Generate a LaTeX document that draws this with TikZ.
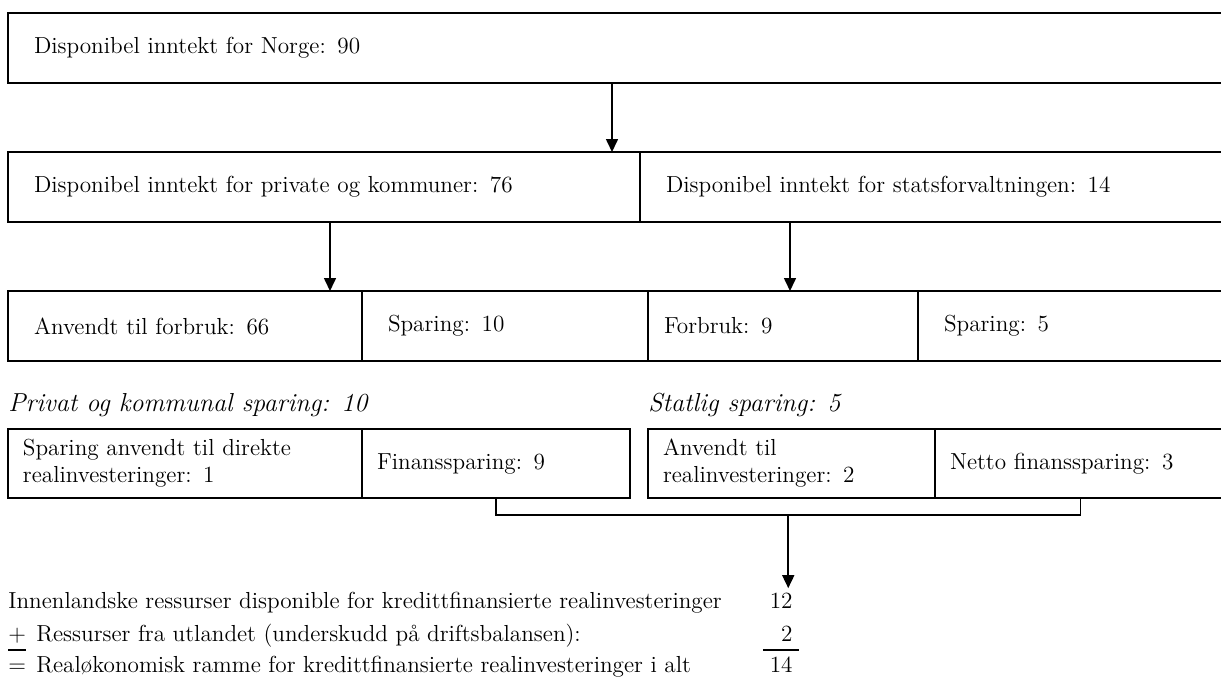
\documentclass[tikz,border=0pt]{standalone}
\usetikzlibrary{arrows.meta, positioning, calc}

\begin{document}
\begin{tikzpicture}[x=0.5pt, y=-0.5pt,
      box/.style={rectangle, draw, line width=1pt, outer sep=0pt, inner xsep=13pt, inner ysep=2pt, minimum height=35pt, align=left, text width=#1},
      smallbox/.style={box=#1, inner xsep=7.5pt, minimum height=34.5pt},
      heading/.style={font=\fontsize{13}{16}\selectfont\itshape, inner sep=0pt},
      line/.style={anchor=base west, inner sep=0pt},
      num/.style={anchor=base east, inner sep=0pt},
      arrow/.style={-{Triangle[width=6pt, length=6.5pt]}, line width=0.8pt},
      every node/.style={font=\fontsize{11.6}{13.5}\selectfont}
    ]
    \useasboundingbox (0,0) rectangle (1221,680);

    % Norge
    \node[box=583pt, anchor=north west] (norge) at (8,13) {Disponibel inntekt for Norge: 90};

    % Private og stat
    \node[box=290pt, below=34.5pt of norge.south west, anchor=north west] (privat) {Disponibel inntekt for private og kommuner: 76};
    \node[box=267pt, right=0pt of privat] (stat) {Disponibel inntekt for statsforvaltningen: 14};

    % Forbruk og sparing
    \node[box=151pt, below=34.5pt of privat.south west, anchor=north west] (forbruk) {Anvendt til forbruk: 66};
    \node[box=117pt, right=0pt of forbruk] (sparing) {Sparing: 10};
    \node[box=119pt, inner xsep=8pt, right=0pt of sparing] (sforbruk) {Forbruk: 9};
    \node[box=128pt, right=0pt of sforbruk] (ssparing) {Sparing: 5};

    % Sparingen fordelt
    \node[smallbox=162pt, below=34pt of forbruk.south west, anchor=north west] (realinv) {Sparing anvendt til direkte\\realinvesteringer: 1};
    \node[smallbox=119pt, right=0pt of realinv] (finans) {Finanssparing: 9};
    \node[smallbox=128.5pt, right=9pt of finans] (srealinv) {Anvendt til\\realinvesteringer: 2};
    \node[smallbox=130.5pt, right=0pt of srealinv] (netto) {Netto finanssparing: 3};

    \node[heading, above=9pt of realinv.north west, anchor=base west] (hprivat) {Privat og kommunal sparing: 10};
    \node[heading, above=9pt of srealinv.north west, anchor=base west] (hstat) {Statlig sparing: 5};

    % Arrows
    \coordinate (a1) at (612,0);
    \coordinate (a2) at (330,0);
    \coordinate (a3) at (790,0);
    \draw[arrow] (norge.south -| a1) -- (privat.north -| a1);
    \draw[arrow] (privat.south -| a2) -- (forbruk.north -| a2);
    \draw[arrow] (stat.south -| a3) -- (sforbruk.north -| a3);

    % Ramme
    \node[line] (innen) at (8,608) {Innenlandske ressurser disponible for kredittfinansierte realinvesteringer};
    \node[line] (pluss) at (8,641) {+};
    \node[line] (utland) at (36,641) {Ressurser fra utlandet (underskudd på driftsbalansen):};
    \node[line] (lik) at (8,672) {=};
    \node[line] (ramme) at (36,672) {Realøkonomisk ramme for kredittfinansierte realinvesteringer i alt};
    \node[num] (n12) at (793,608) {12};
    \node[num] (n2) at (793,641) {2};
    \node[num] (n14) at (793,672) {14};
    \draw[line width=0.8pt] ([yshift=-4.5pt]pluss.base west) -- ([yshift=-4.5pt]pluss.base east);
    \draw[line width=0.8pt] ([xshift=-9pt, yshift=-4.5pt]n2.base west) -- ([xshift=3pt, yshift=-4.5pt]n2.base east);

    % Finanssparing samlet
    \draw[line width=0.9pt] (finans.south) -- ++(0,17) -| (netto.south);
    \coordinate (brk) at ($(finans.south)!0.5!(netto.south) + (0,17)$);
    \draw[arrow, shorten >=2pt] (brk) -- (brk |- n12.north);

  \end{tikzpicture}
\end{document}
